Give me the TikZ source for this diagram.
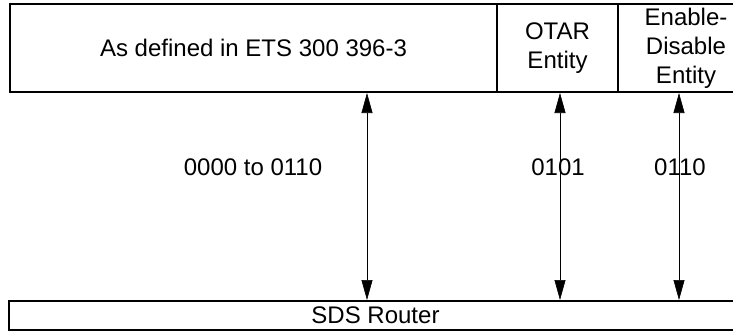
\documentclass[tikz,border=0pt]{standalone}
\usepackage{fontspec}
\setmainfont{Liberation Sans}
\usetikzlibrary{arrows.meta}

\begin{document}
\begin{tikzpicture}[x=1pt,y=-1pt,line cap=butt,
	cell/.style={draw,line width=2pt,inner sep=0pt,align=center,font=\fontsize{24}{29}\selectfont},
	lab/.style={font=\fontsize{24}{29}\selectfont},
	link/.style={line width=0.6pt,{Triangle[length=20pt,width=11pt]}-{Triangle[length=20pt,width=11pt]}}]
	\useasboundingbox (0,0) rectangle (733,333);
	\clip (0,0) rectangle (733,333);
	% upper layer
	\node[cell,minimum width=487,minimum height=88] (ets) at (253.5,48) {As defined in ETS 300 396-3};
	\node[cell,minimum width=121,minimum height=88] (otar) at (557.5,48) {OTAR\\Entity};
	\node[cell,minimum width=136,minimum height=88] (endis) at (686,48) {Enable-\\Disable\\Entity};
	% router
	\node[cell,minimum width=733,minimum height=29,anchor=west] (router) at (8,315.5) {SDS Router};
	% address ranges
	\node[lab] (rngall) at (253,167) {0000 to 0110};
	\node[lab] (rngotar) at (558,167) {0101};
	\node[lab] (rngendis) at (680,167) {0110};
	\coordinate (x1) at (367,0);
	\coordinate (x2) at (560,0);
	\coordinate (x3) at (679,0);
	\draw[link] (router.north -| x1) -- (ets.south -| x1);
	\draw[link] (router.north -| x2) -- (otar.south -| x2);
	\draw[link] (router.north -| x3) -- (endis.south -| x3);
\end{tikzpicture}
\end{document}
